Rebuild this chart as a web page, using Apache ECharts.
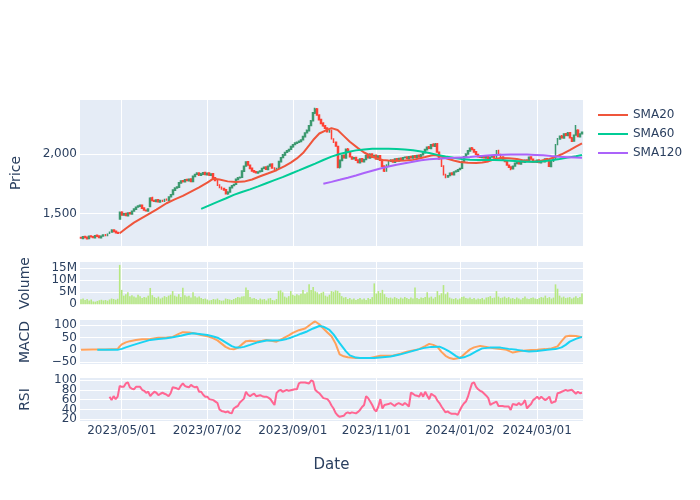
<!DOCTYPE html>
<html><head><meta charset="utf-8">
<script src="https://cdn.jsdelivr.net/npm/echarts@6/dist/echarts.min.js"></script>
<style>html,body{margin:0;padding:0;background:#fff}#c{width:700px;height:500px}</style>
</head><body><div id="c"></div>
<script>
// ---- trading days (TSE calendar) ----
const dates = [
'2023-04-03','2023-04-04','2023-04-05','2023-04-06','2023-04-07','2023-04-10','2023-04-11','2023-04-12','2023-04-13','2023-04-14','2023-04-17','2023-04-18','2023-04-19','2023-04-20','2023-04-21','2023-04-24','2023-04-25','2023-04-26','2023-04-27','2023-04-28',
'2023-05-01','2023-05-02','2023-05-08','2023-05-09','2023-05-10','2023-05-11','2023-05-12','2023-05-15','2023-05-16','2023-05-17','2023-05-18','2023-05-19','2023-05-22','2023-05-23','2023-05-24','2023-05-25','2023-05-26','2023-05-29','2023-05-30','2023-05-31',
'2023-06-01','2023-06-02','2023-06-05','2023-06-06','2023-06-07','2023-06-08','2023-06-09','2023-06-12','2023-06-13','2023-06-14','2023-06-15','2023-06-16','2023-06-19','2023-06-20','2023-06-21','2023-06-22','2023-06-23','2023-06-26','2023-06-27','2023-06-28','2023-06-29','2023-06-30',
'2023-07-03','2023-07-04','2023-07-05','2023-07-06','2023-07-07','2023-07-10','2023-07-11','2023-07-12','2023-07-13','2023-07-14','2023-07-18','2023-07-19','2023-07-20','2023-07-21','2023-07-24','2023-07-25','2023-07-26','2023-07-27','2023-07-28','2023-07-31',
'2023-08-01','2023-08-02','2023-08-03','2023-08-04','2023-08-07','2023-08-08','2023-08-09','2023-08-10','2023-08-14','2023-08-15','2023-08-16','2023-08-17','2023-08-18','2023-08-21','2023-08-22','2023-08-23','2023-08-24','2023-08-25','2023-08-28','2023-08-29','2023-08-30','2023-08-31',
'2023-09-01','2023-09-04','2023-09-05','2023-09-06','2023-09-07','2023-09-08','2023-09-11','2023-09-12','2023-09-13','2023-09-14','2023-09-15','2023-09-19','2023-09-20','2023-09-21','2023-09-22','2023-09-25','2023-09-26','2023-09-27','2023-09-28','2023-09-29',
'2023-10-02','2023-10-03','2023-10-04','2023-10-05','2023-10-06','2023-10-10','2023-10-11','2023-10-12','2023-10-13','2023-10-16','2023-10-17','2023-10-18','2023-10-19','2023-10-20','2023-10-23','2023-10-24','2023-10-25','2023-10-26','2023-10-27','2023-10-30','2023-10-31',
'2023-11-01','2023-11-02','2023-11-06','2023-11-07','2023-11-08','2023-11-09','2023-11-10','2023-11-13','2023-11-14','2023-11-15','2023-11-16','2023-11-17','2023-11-20','2023-11-21','2023-11-22','2023-11-24','2023-11-27','2023-11-28','2023-11-29','2023-11-30',
'2023-12-01','2023-12-04','2023-12-05','2023-12-06','2023-12-07','2023-12-08','2023-12-11','2023-12-12','2023-12-13','2023-12-14','2023-12-15','2023-12-18','2023-12-19','2023-12-20','2023-12-21','2023-12-22','2023-12-25','2023-12-26','2023-12-27','2023-12-28','2023-12-29',
'2024-01-04','2024-01-05','2024-01-09','2024-01-10','2024-01-11','2024-01-12','2024-01-15','2024-01-16','2024-01-17','2024-01-18','2024-01-19','2024-01-22','2024-01-23','2024-01-24','2024-01-25','2024-01-26','2024-01-29','2024-01-30','2024-01-31',
'2024-02-01','2024-02-02','2024-02-05','2024-02-06','2024-02-07','2024-02-08','2024-02-09','2024-02-13','2024-02-14','2024-02-15','2024-02-16','2024-02-19','2024-02-20','2024-02-21','2024-02-22','2024-02-26','2024-02-27','2024-02-28','2024-02-29',
'2024-03-01','2024-03-04','2024-03-05','2024-03-06','2024-03-07','2024-03-08','2024-03-11','2024-03-12','2024-03-13','2024-03-14','2024-03-15','2024-03-18','2024-03-19','2024-03-21','2024-03-22','2024-03-25','2024-03-26','2024-03-27','2024-03-28','2024-03-29',
'2024-04-01','2024-04-02','2024-04-03'];

const opens = [
1300,1292,1308,1302,1292,1312,1306,1298,1318,1312, 1298,1312,1322,1314,1332,1346,1362,1352,1342,1455,
1512,1488,1502,1483,1507,1498,1522,1538,1557,1563, 1572,1547,1528,1523,1560,1632,1612,1603,1617,1598,
1612,1603,1622,1613,1642,1662,1698,1717,1723,1758, 1778,1768,1787,1778,1792,1772,1813,1832,1842,1823,
1833,1847,1828,1842,1823,1837,1802,1778,1742,1722, 1712,1702,1668,1682,1718,1737,1747,1788,1802,1807,
1858,1902,1937,1908,1882,1862,1852,1843,1852,1858, 1882,1892,1873,1902,1917,1883,1873,1882,1938,1972,
1993,2017,2028,2042,2063,2082,2093,2102,2108,2122, 2148,2182,2198,2242,2282,2348,2382,2328,2292,2262,
2238,2222,2188,2202,2128,2102,2065,1892,1948,1992, 1968,2042,2022,1978,1962,1972,1952,1928,1962,1938,
1957,1992,1968,2002,1973,1992,1958,1987,1952,1902, 1858,1908,1942,1952,1933,1962,1943,1967,1953,1972,
1977,1963,1982,1968,1987,1973,1992,1978,1997,2012, 2038,2062,2048,2082,2068,2087,2018,1962,1902,1828,
1808,1822,1842,1828,1852,1858,1872,1882,1938,1982, 2002,2028,2052,2038,2022,1998,1982,1973,1987,1968,
1982,1963,1977,1987,1968,2032,1998,1977,1948,1942, 1908,1892,1878,1902,1923,1937,1918,1942,1933,1952,
1943,1977,1958,1942,1933,1952,1928,1947,1938,1962, 1948,1898,1942,1958,2082,2128,2152,2138,2172,2158,
2182,2138,2112,2162,2202,2148,2172];
const closes = [
1295,1305,1300,1290,1310,1305,1300,1315,1310,1300, 1310,1320,1315,1330,1345,1360,1350,1340,1335,1510,
1490,1500,1485,1505,1500,1520,1540,1555,1565,1570, 1545,1530,1525,1540,1630,1610,1605,1615,1600,1610,
1605,1620,1615,1640,1660,1700,1715,1725,1760,1775, 1770,1785,1780,1790,1770,1815,1830,1840,1825,1835,
1845,1830,1840,1825,1835,1800,1780,1740,1720,1710, 1700,1670,1680,1720,1735,1745,1790,1800,1805,1860,
1900,1935,1910,1880,1860,1850,1845,1850,1860,1880, 1890,1875,1900,1915,1885,1875,1880,1940,1970,1995,
2015,2030,2040,2065,2080,2095,2100,2110,2120,2150, 2180,2200,2240,2280,2350,2380,2330,2290,2260,2240,
2220,2190,2200,2130,2100,2070,1890,1950,1990,1970, 2040,2020,1980,1960,1970,1950,1930,1960,1940,1955,
1990,1970,2000,1975,1990,1960,1985,1950,1900,1860, 1910,1940,1950,1935,1960,1945,1965,1955,1970,1975,
1965,1980,1970,1985,1975,1990,1980,1995,2010,2040, 2060,2050,2080,2070,2085,2020,1960,1900,1830,1810,
1820,1840,1830,1850,1860,1870,1880,1940,1980,2000, 2030,2050,2040,2020,2000,1980,1975,1985,1970,1980,
1965,1975,1985,1970,2030,2000,1975,1950,1940,1910, 1890,1880,1900,1925,1935,1920,1940,1935,1950,1945,
1975,1960,1940,1935,1950,1930,1945,1940,1960,1950, 1900,1940,1960,2080,2130,2150,2140,2170,2160,2180,
2140,2110,2160,2200,2150,2170,2185];
const highs = [
1306,1310,1312,1306,1314,1318,1310,1320,1322,1316, 1314,1326,1328,1334,1350,1368,1366,1356,1348,1518,
1520,1506,1508,1510,1514,1526,1546,1560,1572,1578, 1578,1552,1534,1546,1638,1642,1618,1620,1622,1616,
1618,1626,1628,1646,1666,1706,1722,1732,1766,1782, 1784,1792,1794,1796,1798,1820,1836,1848,1848,1842,
1850,1852,1846,1848,1840,1842,1808,1784,1748,1728, 1718,1706,1688,1726,1740,1752,1796,1808,1812,1866,
1906,1942,1944,1914,1888,1868,1858,1856,1866,1886, 1898,1898,1906,1922,1924,1890,1886,1946,1976,2002,
2022,2036,2046,2070,2086,2102,2108,2116,2126,2156, 2186,2208,2246,2288,2356,2392,2390,2336,2298,2270,
2246,2228,2208,2208,2134,2108,2072,1956,1996,1998, 2048,2052,2028,1984,1978,1978,1958,1966,1968,1962,
1996,1998,2008,2008,1996,1998,1990,1992,1958,1908, 1916,1946,1958,1958,1966,1968,1970,1972,1976,1982,
1982,1986,1988,1990,1992,1996,1998,2002,2016,2046, 2066,2070,2086,2092,2094,2094,2024,1968,1908,1836,
1826,1846,1848,1856,1866,1876,1886,1946,1986,2008, 2036,2058,2062,2046,2028,2004,1988,1990,1992,1986,
1988,1980,1990,1992,2036,2038,2004,1982,1954,1946, 1914,1898,1906,1930,1940,1944,1946,1948,1956,1958,
1982,1984,1964,1948,1956,1958,1950,1952,1966,1968, 1954,1946,1966,2086,2138,2158,2162,2176,2180,2188,
2188,2146,2166,2246,2210,2176,2192];
const lows = [
1289,1288,1296,1285,1288,1300,1295,1294,1306,1296, 1294,1308,1310,1310,1328,1342,1345,1336,1330,1448,
1484,1482,1480,1478,1494,1494,1518,1532,1552,1556, 1540,1524,1518,1518,1556,1604,1598,1598,1594,1592,
1598,1598,1608,1608,1636,1656,1692,1710,1718,1752, 1762,1762,1774,1772,1764,1766,1808,1826,1818,1818,
1828,1824,1822,1818,1818,1794,1774,1734,1714,1702, 1694,1662,1660,1676,1712,1730,1742,1782,1796,1802,
1852,1896,1904,1874,1854,1844,1838,1836,1846,1852, 1876,1868,1866,1896,1878,1868,1866,1876,1932,1966,
1986,2010,2022,2036,2056,2076,2086,2096,2102,2116, 2142,2176,2192,2236,2276,2340,2324,2284,2254,2232,
2212,2184,2182,2124,2094,2064,1882,1880,1942,1964, 1962,2012,1974,1954,1956,1944,1924,1922,1934,1932,
1950,1964,1962,1968,1968,1954,1952,1944,1894,1850, 1852,1902,1936,1928,1928,1938,1938,1950,1948,1966,
1958,1958,1964,1962,1970,1968,1974,1972,1990,2006, 2032,2044,2042,2064,2062,2014,1954,1894,1822,1798,
1802,1816,1824,1822,1846,1852,1866,1876,1932,1976, 1996,2022,2034,2014,1994,1974,1968,1968,1964,1962,
1960,1958,1972,1964,1962,1994,1968,1944,1934,1904, 1884,1866,1872,1896,1918,1914,1912,1928,1928,1940,
1938,1954,1934,1928,1928,1924,1922,1934,1932,1944, 1894,1892,1936,1952,2076,2122,2132,2132,2152,2152,
2134,2104,2106,2156,2144,2142,2166];

// volume in millions of shares
const volumeM = [
2.1,2.4,1.8,2.2,1.6,2.0,1.2,1.1,1.4,1.7, 1.9,1.6,1.8,1.5,2.0,2.4,2.2,1.9,2.3,16.4,
6.0,3.6,4.2,5.0,3.4,3.8,3.2,2.8,4.0,3.4, 2.6,3.0,2.8,3.6,6.8,3.8,3.0,2.6,3.2,2.4,
2.8,3.4,3.0,3.6,4.0,5.5,3.6,3.2,4.2,3.0, 6.9,3.8,3.2,3.6,2.8,5.0,3.4,2.8,3.2,2.6,
2.2,2.4,2.0,1.6,1.8,2.2,2.0,2.4,1.8,1.5, 1.6,2.4,2.2,2.0,1.8,2.2,2.6,3.0,2.8,3.2,
3.4,7.0,6.0,3.0,2.4,2.6,2.2,1.8,2.4,2.0, 2.2,1.6,2.4,2.6,1.8,1.6,2.2,5.6,5.8,5.0,
3.2,2.8,3.4,5.5,4.0,3.6,4.2,3.8,4.4,6.0, 4.4,5.0,8.3,6.0,7.2,5.4,5.0,4.2,4.8,5.2,
3.6,3.2,4.0,5.5,5.2,5.8,5.6,4.8,3.4,2.8, 3.0,2.2,2.6,2.0,2.4,1.8,2.2,2.6,2.0,2.4,
1.8,2.6,2.2,3.0,8.7,4.5,5.5,4.8,6.0,4.2, 3.0,2.6,2.8,2.4,3.0,2.6,2.2,2.8,2.4,3.0,
2.6,2.2,2.8,2.4,7.0,2.6,2.2,2.8,2.6,3.0, 5.0,2.8,3.2,2.4,3.0,5.5,3.8,4.6,8.0,4.2,
5.0,2.8,2.4,2.2,2.6,2.0,2.4,3.0,3.2,2.6, 2.4,2.8,2.2,2.6,2.0,2.4,2.2,2.6,2.0,2.8,
3.0,3.4,2.6,2.8,5.5,3.2,2.6,2.8,3.2,2.6, 3.0,2.4,2.6,2.2,2.8,2.4,2.0,2.6,3.2,2.4,
2.2,2.6,2.8,2.4,2.2,2.6,3.0,2.8,3.6,2.6, 3.0,2.4,2.8,8.3,6.5,3.6,2.8,3.2,2.6,2.8,
3.0,2.4,2.8,3.4,2.6,3.0,4.5];

const rsi = [
null,null,null,null,null,null,null,null,null,null, null,null,null,null,66,59,67,61,66,88,
86,86,93,95,85,82,81,86,86,86, 80,78,74,76,67,72,76,74,69,72,
74,72,70,67,73,85,84,83,81,88, 93,88,86,85,90,87,85,86,76,76,
70,66,66,61,60,59,56,53,40,37, 36,34,36,33,32,42,45,47,54,58,
62,76,70,67,70,72,67,68,69,67, 66,66,64,61,55,49,73,78,80,76,
78,80,78,79,80,81,81,93,95,95, 95,94,93,99,97,80,76,73,68,63,
62,61,56,48,42,33,28,25,26,27, 32,34,32,34,33,32,35,39,45,49,
67,63,56,49,40,36,46,61,42,49, 50,51,53,50,47,51,53,51,49,53,
50,46,74,72,69,68,66,74,66,76, 68,61,72,69,66,58,53,46,40,34,
36,33,31,31,31,29,38,46,52,56, 66,80,93,95,86,81,78,76,72,68,
63,49,52,54,56,47,47,47,46,46, 46,39,51,50,49,53,49,52,59,42,
47,51,59,62,66,61,66,62,59,62, 66,53,55,56,73,74,76,78,80,78,
79,80,76,72,76,73,74];

// moving averages (trading-day index -> value)
const sma20Idx = [19,22,26,30,33,37,42,46,50,54,58,62,65,68,72,76,80,84,88,92,96,100,103,106,109,112,114,117,120,123,126,129,132,136,139,142,145,148,151,155,159,163,166,169,172,174,177,180,183,186,190,194,197,200,203,206,210,214,218,222,226,230,233,236,240,243,246];
const sma20 = [1335,1375,1425,1465,1495,1535,1588,1620,1650,1686,1722,1762,1795,1788,1772,1766,1770,1788,1815,1840,1866,1900,1930,1965,2010,2075,2120,2175,2200,2220,2205,2155,2105,2052,2015,1990,1968,1952,1947,1945,1948,1953,1965,1977,1990,1994,1980,1962,1948,1935,1928,1926,1930,1940,1958,1968,1966,1960,1945,1935,1945,1960,1978,2000,2036,2065,2092];
const sma60Idx = [59,63,67,71,75,79,83,87,91,95,99,103,107,111,115,119,123,127,131,135,139,143,147,151,155,159,163,167,171,175,179,183,187,191,195,199,203,207,211,215,219,223,227,231,235,239,243,246];
const sma60 = [1540,1570,1600,1628,1658,1682,1705,1730,1756,1782,1808,1836,1864,1893,1922,1952,1980,2002,2020,2033,2041,2046,2047,2046,2044,2040,2034,2024,2010,1995,1982,1970,1960,1954,1952,1952,1952,1950,1946,1942,1938,1937,1942,1950,1960,1972,1984,1994];
const sma120Idx = [119,123,127,131,135,139,143,147,151,155,159,163,167,171,175,179,183,187,191,195,199,203,207,211,215,219,223,227,231,235,239,243,246];
const sma120 = [1752,1768,1785,1803,1822,1842,1862,1880,1897,1912,1925,1938,1950,1958,1963,1967,1970,1974,1978,1984,1989,1993,1996,1998,1999,1998,1995,1991,1985,1980,1976,1972,1970];

const macdIdx = [0,6,12,18,19,20,22,24,27,30,34,38,42,45,48,50,53,56,59,62,65,67,69,71,73,75,77,79,81,83,86,89,91,94,96,99,102,104,107,110,112,114,115,117,119,121,123,125,127,129,131,135,142,147,153,157,160,163,166,169,171,173,175,177,179,181,183,185,187,189,191,193,196,199,202,206,209,212,215,217,221,224,228,231,234,236,238,240,243,246];
const macd = [0,1,1,3,14,22,30,35,40,43,44,49,50,52,64,71,70,66,60,55,46,38,25,12,4,2,8,22,35,37,34,37,40,36,33,45,58,68,79,86,98,110,114,103,86,70,55,25,-18,-26,-30,-33,-33,-24,-24,-15,-7,-2,3,15,24,20,12,-8,-24,-33,-37,-34,-27,-12,2,10,16,12,7,3,0,-11,-6,-4,-1,0,3,6,14,35,54,57,56,51];
const signalIdx = [8,18,20,22,25,29,34,38,42,45,49,52,55,58,62,65,67,69,72,74,76,78,80,83,87,91,94,98,101,103,106,108,111,114,117,119,122,124,127,130,132,135,137,144,148,152,156,160,164,168,172,176,178,181,184,186,188,191,194,197,201,206,210,214,217,220,224,229,233,236,238,240,243,246];
const signal = [0,0,4,10,18,28,40,44,47,51,57,63,67,64,60,54,49,40,25,15,9,9,12,20,31,38,38,39,44,49,58,65,74,86,96,93,80,62,27,-5,-22,-31,-33,-33,-30,-27,-20,-11,-2,7,12,13,6,-7,-24,-33,-30,-20,-6,6,9,9,4,0,-4,-7,-5,0,3,10,20,33,44,52];

// axis ticks
const tickDates  = ['2023-05-01','2023-07-03','2023-09-01','2023-11-01','2024-01-04','2024-03-01'];
const tickLabels = ['2023/05/01','2023/07/02','2023/09/01','2023/11/01','2024/01/02','2024/03/01'];
const priceTicks = [1500, 2000];
const volumeTicks = [0, 5, 10, 15];
const macdTicks = [-50, 0, 50, 100];
const rsiTicks = [20, 40, 60, 80, 100];
const rsiTicksA = [20, 60, 100];   // labels drawn by the first RSI axis
const rsiTicksB = [40, 80];        // labels drawn by the overlaid RSI axis

// sanity
[['opens',opens],['closes',closes],['highs',highs],['lows',lows],['vol',volumeM],['rsi',rsi]].forEach(([n,a])=>{
  if (a.length !== dates.length) throw new Error(n+' length '+a.length+' vs '+dates.length);
});
[[sma20Idx,sma20],[sma60Idx,sma60],[sma120Idx,sma120],[macdIdx,macd],[signalIdx,signal]].forEach(([a,b],k)=>{
  if (a.length !== b.length) throw new Error('pair '+k+' '+a.length+' vs '+b.length);
});

const FONT = 'Verdana, "DejaVu Sans", sans-serif';
const TXT = '#2a3f5f';
const BG = '#E5ECF6';
const L = 80, W = 503;
const grids = [
  {left: L, width: W, top: 100, height: 146},
  {left: L, width: W, top: 262, height: 42.3},
  {left: L, width: W, top: 320, height: 44},
  {left: L, width: W, top: 378, height: 43}
].map(g => Object.assign(g, {show: true, backgroundColor: BG, borderWidth: 0, containLabel: false}));

const isTick = (i, v) => tickDates.indexOf(v) >= 0;
const xAxes = [0,1,2,3].map(g => ({
  type: 'category', gridIndex: g, data: dates, boundaryGap: true,
  axisLine: {show: false}, axisTick: {show: false},
  axisLabel: {show: g === 3, interval: isTick, formatter: v => tickLabels[tickDates.indexOf(v)],
              color: TXT, fontFamily: FONT, fontSize: 12, margin: 4},
  splitLine: {show: true, interval: isTick, alignWithLabel: true, lineStyle: {color: '#fff', width: 1}},
  name: g === 3 ? 'Date' : '', nameLocation: 'middle', nameGap: 37,
  nameTextStyle: {color: TXT, fontFamily: FONT, fontSize: 15}
}));

function yAx(g, min, max, ticks, labelTicks, fmt, name, gap, showSplit) {
  return {
    type: 'value', gridIndex: g, min: min, max: max, position: 'left', offset: 0,
    axisLine: {show: false},
    axisTick: {show: false, customValues: ticks},
    axisLabel: {customValues: labelTicks, formatter: fmt, color: TXT, fontFamily: FONT, fontSize: 12, margin: 3,
                hideOverlap: false, showMinLabel: true, showMaxLabel: true},
    splitLine: {show: showSplit, lineStyle: {color: '#fff', width: 1}},
    name: name, nameLocation: 'middle', nameGap: gap, nameRotate: 90,
    nameTextStyle: {color: TXT, fontFamily: FONT, fontSize: 14}
  };
}
const yAxes = [
  yAx(0, 1228, 2457, priceTicks, priceTicks, v => v.toLocaleString('en-US'), 'Price', 57, true),
  yAx(1, 0, 17.6, volumeTicks, volumeTicks, v => v === 0 ? '0' : v + 'M', 'Volume', 48, true),
  yAx(2, -56.8, 120, macdTicks, macdTicks, v => v < 0 ? '\u2212' + Math.abs(v) : String(v), 'MACD', 48, true),
  yAx(3, 16.5, 104, rsiTicks, rsiTicksA, v => String(v), 'RSI', 48, true),
  yAx(3, 16.5, 104, rsiTicksB, rsiTicksB, v => String(v), '', 48, false)
];

const pts = (idx, vals) => idx.map((k, j) => [dates[k], vals[j]]);
const lineS = (name, data, color, xi, yi) => ({
  name: name, type: 'line', data: data, xAxisIndex: xi, yAxisIndex: yi,
  symbol: 'none', smooth: false, lineStyle: {color: color, width: 2}, itemStyle: {color: color},
  silent: true, z: 3
});

const option = {
  animation: false,
  backgroundColor: '#fff',
  grid: grids,
  xAxis: xAxes,
  yAxis: yAxes,
  legend: {
    data: ['SMA20', 'SMA60', 'SMA120'], orient: 'vertical', left: 593, top: 103,
    icon: 'rect', itemWidth: 30, itemHeight: 2, itemGap: 5, padding: 5,
    textStyle: {color: TXT, fontFamily: FONT, fontSize: 12, lineHeight: 14}
  },
  series: [
    {
      name: 'Price', type: 'candlestick', xAxisIndex: 0, yAxisIndex: 0,
      data: dates.map((d, i) => [opens[i], closes[i], lows[i], highs[i]]),
      barWidth: 1.4,
      itemStyle: {color: 'rgba(61,153,112,0.6)', color0: 'rgba(255,65,54,0.6)',
                  borderColor: '#3D9970', borderColor0: '#FF4136', borderWidth: 1.5},
      silent: true, z: 2
    },
    lineS('SMA20', pts(sma20Idx, sma20), '#EF553B', 0, 0),
    lineS('SMA60', pts(sma60Idx, sma60), '#00CC96', 0, 0),
    lineS('SMA120', pts(sma120Idx, sma120), '#AB63FA', 0, 0),
    {
      name: 'Volume', type: 'bar', xAxisIndex: 1, yAxisIndex: 1, data: volumeM,
      barWidth: 1.6, itemStyle: {color: '#B6E880'}, silent: true
    },
    lineS('MACD', pts(macdIdx, macd), '#FFA15A', 2, 2),
    lineS('Signal', pts(signalIdx, signal), '#19D3F3', 2, 2),
    lineS('RSI', rsi, '#FF6692', 3, 3)
  ]
};
const chart = echarts.init(document.getElementById('c'), null, {renderer: 'canvas'});
chart.setOption(option);
</script>
</body></html>
